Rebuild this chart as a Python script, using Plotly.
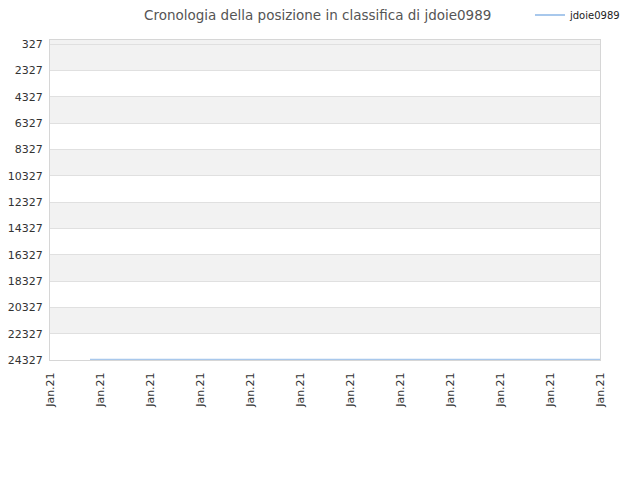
import plotly.graph_objects as go

# dati
titolo = "Cronologia della posizione in classifica di jdoie0989"
nome_serie = "jdoie0989"
tick_x = [0, 1, 2, 3, 4, 5, 6, 7, 8, 9, 10, 11]
etichette_x = ["Jan.21"] * 12
serie_x = [0.8, 2, 4, 6, 8, 10, 11]
serie_y = [24310, 24310, 24310, 24310, 24310, 24310, 24310]
tick_y = [327, 2327, 4327, 6327, 8327, 10327, 12327, 14327, 16327, 18327, 20327, 22327, 24327]
y_alto = 23
y_basso = 24327

fig = go.Figure()
fig.add_trace(go.Scatter(
    x=serie_x, y=serie_y, mode="lines", name=nome_serie,
    line=dict(color="#a8c8ec", width=2),
))

# fasce grigie alternate
bordi = [y_alto] + tick_y[1:]
for i in range(0, len(bordi) - 1, 2):
    fig.add_shape(type="rect", xref="paper", yref="y", x0=0, x1=1,
                  y0=bordi[i], y1=bordi[i + 1], fillcolor="#f2f2f2",
                  line_width=0, layer="below")

# la pagina ha 8px di margine nel body
fig.update_layout(
    width=632, height=472,
    margin=dict(l=42, r=40, t=32, b=120, autoexpand=False),
    paper_bgcolor="white", plot_bgcolor="white",
    title=dict(text=titolo, x=0.49, xanchor="center", y=1.0, yanchor="top",
               yref="container", pad=dict(t=3),
               font=dict(family="DejaVu Sans", size=13.5, color="#555")),
    showlegend=True,
    legend=dict(x=0.8727, xanchor="left", y=1.078, yanchor="middle",
                font=dict(family="DejaVu Sans", size=10, color="#222"),
                bgcolor="rgba(0,0,0,0)"),
    font=dict(family="DejaVu Sans", size=11, color="#333"),
)
fig.update_xaxes(
    range=[0, 11], tickmode="array", tickvals=tick_x, ticktext=etichette_x,
    tickangle=-90, showgrid=False, zeroline=False, automargin=False,
    ticklabelstandoff=7,
    showline=True, linecolor="#d6d6d6", linewidth=1, mirror=True,
    tickfont=dict(size=11, color="#333"),
)
fig.update_yaxes(
    range=[y_basso, y_alto], tickmode="array", tickvals=tick_y,
    ticktext=[str(v) for v in tick_y], automargin=False,
    ticklabelstandoff=4,
    showgrid=True, gridcolor="#e0e0e0", zeroline=False,
    showline=True, linecolor="#d6d6d6", linewidth=1, mirror=True,
    tickfont=dict(size=11, color="#333"),
)

fig.write_html("out.html")
